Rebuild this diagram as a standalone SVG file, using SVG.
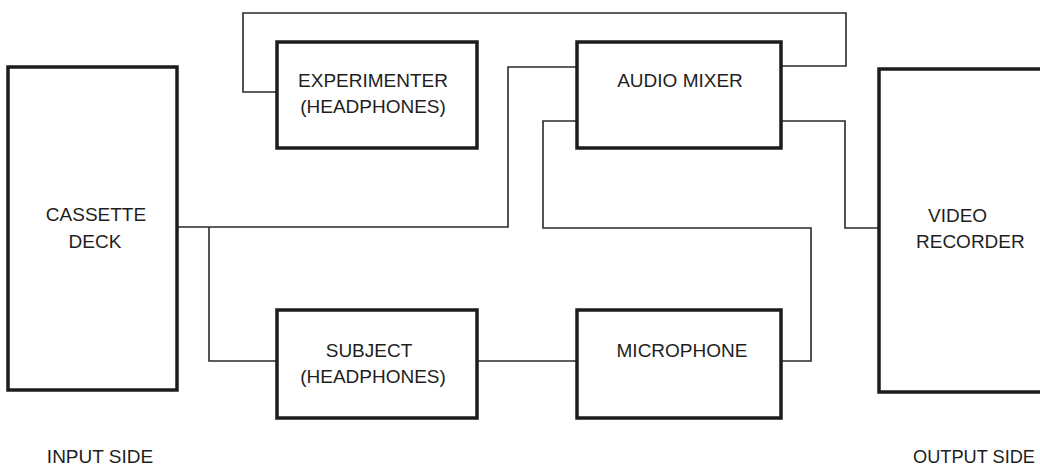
<svg xmlns="http://www.w3.org/2000/svg" width="1040" height="468" viewBox="0 0 1040 468">
<style>
.box{fill:#fff;stroke:#1c1c1c;stroke-width:3.5}
.wire{fill:none;stroke:#2a2a2a;stroke-width:1.6}
text{font-family:"Liberation Sans",Arial,sans-serif;font-size:19px;fill:#1e1e1e}
.c{text-anchor:middle}
</style>
<rect width="1040" height="468" fill="#fff"/>
<g id="connectors">
<polyline class="wire" points="277,92 243,92 243,13 846,13 846,66 781,66"/>
<polyline class="wire" points="177,227 508,227 508,67 577,67"/>
<polyline class="wire" points="209,227 209,361 277,361"/>
<line class="wire" x1="477" y1="361" x2="577" y2="361"/>
<polyline class="wire" points="781,361 811,361 811,228 543,228 543,121 577,121"/>
<polyline class="wire" points="781,121 845,121 845,228 879,228"/>
</g>
<g id="cassette-deck">
<rect class="box" x="8" y="67" width="169" height="323"/>
<text class="c" x="96" y="221">CASSETTE</text>
<text class="c" x="95" y="248">DECK</text>
</g>
<g id="experimenter">
<rect class="box" x="277" y="42" width="200" height="106"/>
<text class="c" x="373" y="87">EXPERIMENTER</text>
<text class="c" x="373" y="113">(HEADPHONES)</text>
</g>
<g id="audio-mixer">
<rect class="box" x="577" y="42" width="204" height="106"/>
<text class="c" x="680" y="87">AUDIO MIXER</text>
</g>
<g id="video-recorder">
<rect class="box" x="879" y="69" width="175" height="323"/>
<text x="928" y="222">VIDEO</text>
<text x="916" y="248">RECORDER</text>
</g>
<g id="subject">
<rect class="box" x="277" y="310" width="200" height="108"/>
<text class="c" x="369" y="357">SUBJECT</text>
<text class="c" x="373" y="383">(HEADPHONES)</text>
</g>
<g id="microphone">
<rect class="box" x="577" y="310" width="204" height="108"/>
<text class="c" x="682" y="357">MICROPHONE</text>
</g>
<g id="labels">
<text class="c" x="100" y="463">INPUT SIDE</text>
<text x="913" y="463" textLength="122" lengthAdjust="spacingAndGlyphs">OUTPUT SIDE</text>
</g>
</svg>
